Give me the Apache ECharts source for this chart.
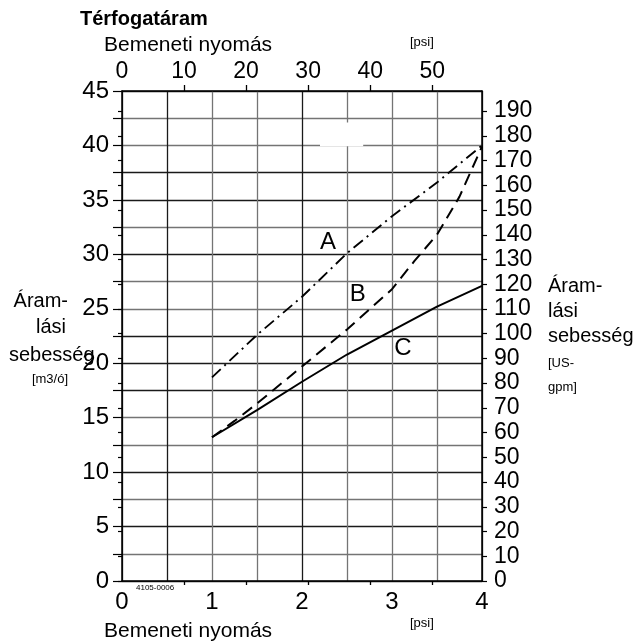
<!DOCTYPE html>
<html>
<head>
<meta charset="utf-8">
<script src="https://cdn.jsdelivr.net/npm/echarts@6/dist/echarts.min.js"></script>
<style>html,body{margin:0;padding:0;background:#fff}#c{width:642px;height:643px}</style>
</head>
<body>
<div id="c"></div>
<script>
// ---- data (x: inlet pressure [bar], y: flow rate [m3/h]) ----
var curveA = [[1, 18.7], [1.5, 22.6], [2, 26.1], [2.5, 30.1], [3, 33.5], [3.5, 36.6], [4, 40.0]];
var curveB = [[1, 13.2], [1.25, 14.7], [1.5, 16.3], [2, 19.7], [2.5, 23.1], [3, 26.8], [3.25, 29.4], [3.5, 31.8], [3.75, 35.3], [4, 39.9]];
var curveC = [[1, 13.2], [1.5, 15.7], [2, 18.3], [2.5, 20.8], [3, 23.0], [3.5, 25.2], [4, 27.1]];
var curveNames = ['A', 'B', 'C'];
var curveLabelPos = [[2.29, 31.1], [2.62, 26.3], [3.12, 21.4]];
var bottomTickLabels = [0, 1, 2, 3, 4];
var topTickLabels = [0, 10, 20, 30, 40, 50];
var topTicks = [10, 20, 30, 40, 50];
var leftTickLabels = [0, 5, 10, 15, 20, 25, 30, 35, 40, 45];
var rightTickLabels = [0, 10, 20, 30, 40, 50, 60, 70, 80, 90, 100, 110, 120, 130, 140, 150, 160, 170, 180, 190];
var PSI_PER_BAR = 14.5038;
var GPM_PER_M3H = 4.40287;
var X_MAX = 4, Y_MAX = 45;

var FONT = 'Liberation Sans, Arial, sans-serif';
var B = '#1a1a1a', G = '#747474';
var hColors = [B, G, B, G, B, G, G, B, B, B, G, G, B, G, B, B, G, G, B];
var vColors = [B, B, G, G, B, G, G, G, B];

var chart = echarts.init(document.getElementById('c'), null, {renderer: 'canvas'});
var txt = function (t, x, y, size, extra) {
  var s = {text: t, font: (extra && extra.bold ? 'bold ' : '') + size + 'px ' + FONT, fill: '#000',
    textAlign: (extra && extra.align) || 'left', textVerticalAlign: 'middle'};
  return {type: 'text', x: x, y: y, style: s, z: 100};
};

chart.setOption({
  animation: false,
  backgroundColor: '#fff',
  grid: {left: 122, right: 160, top: 91, bottom: 62, containLabel: false},
  xAxis: [
    {type: 'value', position: 'bottom', min: 0, max: X_MAX, interval: 0.5,
      axisLine: {show: true, onZero: false, lineStyle: {color: '#000', width: 1.5}},
      axisTick: {show: false},
      axisLabel: {customValues: bottomTickLabels, fontSize: 24, color: '#000', fontFamily: FONT, margin: 9},
      splitLine: {show: true, lineStyle: {color: vColors, width: 1.3}}},
    {type: 'value', position: 'top', min: 0, max: X_MAX * PSI_PER_BAR,
      axisLine: {show: true, onZero: false, lineStyle: {color: '#000', width: 1.5}},
      axisTick: {show: true, customValues: topTicks, length: 6, lineStyle: {color: '#000', width: 1.3}},
      axisLabel: {customValues: topTickLabels, fontSize: 23, color: '#000', fontFamily: FONT, margin: 8},
      splitLine: {show: false}},
    {type: 'value', position: 'top', min: 0, max: X_MAX * PSI_PER_BAR,
      axisLine: {show: false},
      axisTick: {show: true, inside: true, customValues: topTicks, length: 4, lineStyle: {color: '#000', width: 1.3}},
      axisLabel: {show: false}, splitLine: {show: false}}
  ],
  yAxis: [
    {type: 'value', position: 'left', min: 0, max: Y_MAX, interval: 2.5,
      axisLine: {show: true, onZero: false, lineStyle: {color: '#000', width: 1.5}},
      axisTick: {show: true, length: 9, lineStyle: {color: '#000', width: 1.2}},
      axisLabel: {customValues: leftTickLabels, fontSize: 24, color: '#000', fontFamily: FONT, margin: 13},
      splitLine: {show: true, lineStyle: {color: hColors, width: 1.3}}},
    {type: 'value', position: 'right', min: 0, max: Y_MAX * GPM_PER_M3H,
      axisLine: {show: true, onZero: false, lineStyle: {color: '#000', width: 1.5}},
      axisTick: {show: true, customValues: rightTickLabels, length: 5, lineStyle: {color: '#000', width: 1.2}},
      axisLabel: {customValues: rightTickLabels, fontSize: 23, color: '#000', fontFamily: FONT, margin: 12},
      splitLine: {show: false}},
    {type: 'value', position: 'right', min: 0, max: Y_MAX * GPM_PER_M3H,
      axisLine: {show: false},
      axisTick: {show: true, inside: true, customValues: rightTickLabels, length: 4, lineStyle: {color: '#000', width: 1.2}},
      axisLabel: {show: false}, splitLine: {show: false}}
  ],
  series: [
    {name: curveNames[0], type: 'line', data: curveA, symbol: 'none', xAxisIndex: 0, yAxisIndex: 0,
      lineStyle: {color: '#000', width: 1.9, type: [12, 5, 2, 5]},
      markPoint: {symbol: 'circle', symbolSize: 1, itemStyle: {color: 'rgba(0,0,0,0)'},
        label: {show: true, position: 'inside', formatter: curveNames[0], fontSize: 24, color: '#000', fontFamily: FONT},
        data: [{coord: curveLabelPos[0]}]},
      markArea: {silent: true, itemStyle: {color: '#fff', opacity: 1},
        data: [[{coord: [2.2, 42.1]}, {coord: [2.68, 39.92]}]]}},
    {name: curveNames[1], type: 'line', data: curveB, symbol: 'none', xAxisIndex: 0, yAxisIndex: 0,
      lineStyle: {color: '#000', width: 2, type: [12, 7]},
      markPoint: {symbol: 'circle', symbolSize: 1, itemStyle: {color: 'rgba(0,0,0,0)'},
        label: {show: true, position: 'inside', formatter: curveNames[1], fontSize: 24, color: '#000', fontFamily: FONT},
        data: [{coord: curveLabelPos[1]}]}},
    {name: curveNames[2], type: 'line', data: curveC, symbol: 'none', xAxisIndex: 0, yAxisIndex: 0,
      lineStyle: {color: '#000', width: 2, type: 'solid'},
      markPoint: {symbol: 'circle', symbolSize: 1, itemStyle: {color: 'rgba(0,0,0,0)'},
        label: {show: true, position: 'inside', formatter: curveNames[2], fontSize: 24, color: '#000', fontFamily: FONT},
        data: [{coord: curveLabelPos[2]}]}}
  ],
  graphic: [
    txt('Térfogatáram', 80, 19, 20, {bold: true}),
    txt('Bemeneti nyomás', 104, 45, 21),
    txt('[psi]', 410, 42, 13),
    txt('Bemeneti nyomás', 104, 631, 21),
    txt('[psi]', 410, 623, 13),
    txt('Áram-', 68, 301, 20, {align: 'right'}),
    txt('lási', 66, 327, 20, {align: 'right'}),
    txt('sebesség', 9, 355, 20),
    txt('[m3/ó]', 68, 379, 13, {align: 'right'}),
    txt('Áram-', 548, 286, 20),
    txt('lási', 548, 311, 20),
    txt('sebesség', 548, 336, 20),
    txt('[US-', 548, 363, 13),
    txt('gpm]', 548, 387, 13),
    txt('4105-0006', 136, 588, 8)
  ]
});
</script>
</body>
</html>
